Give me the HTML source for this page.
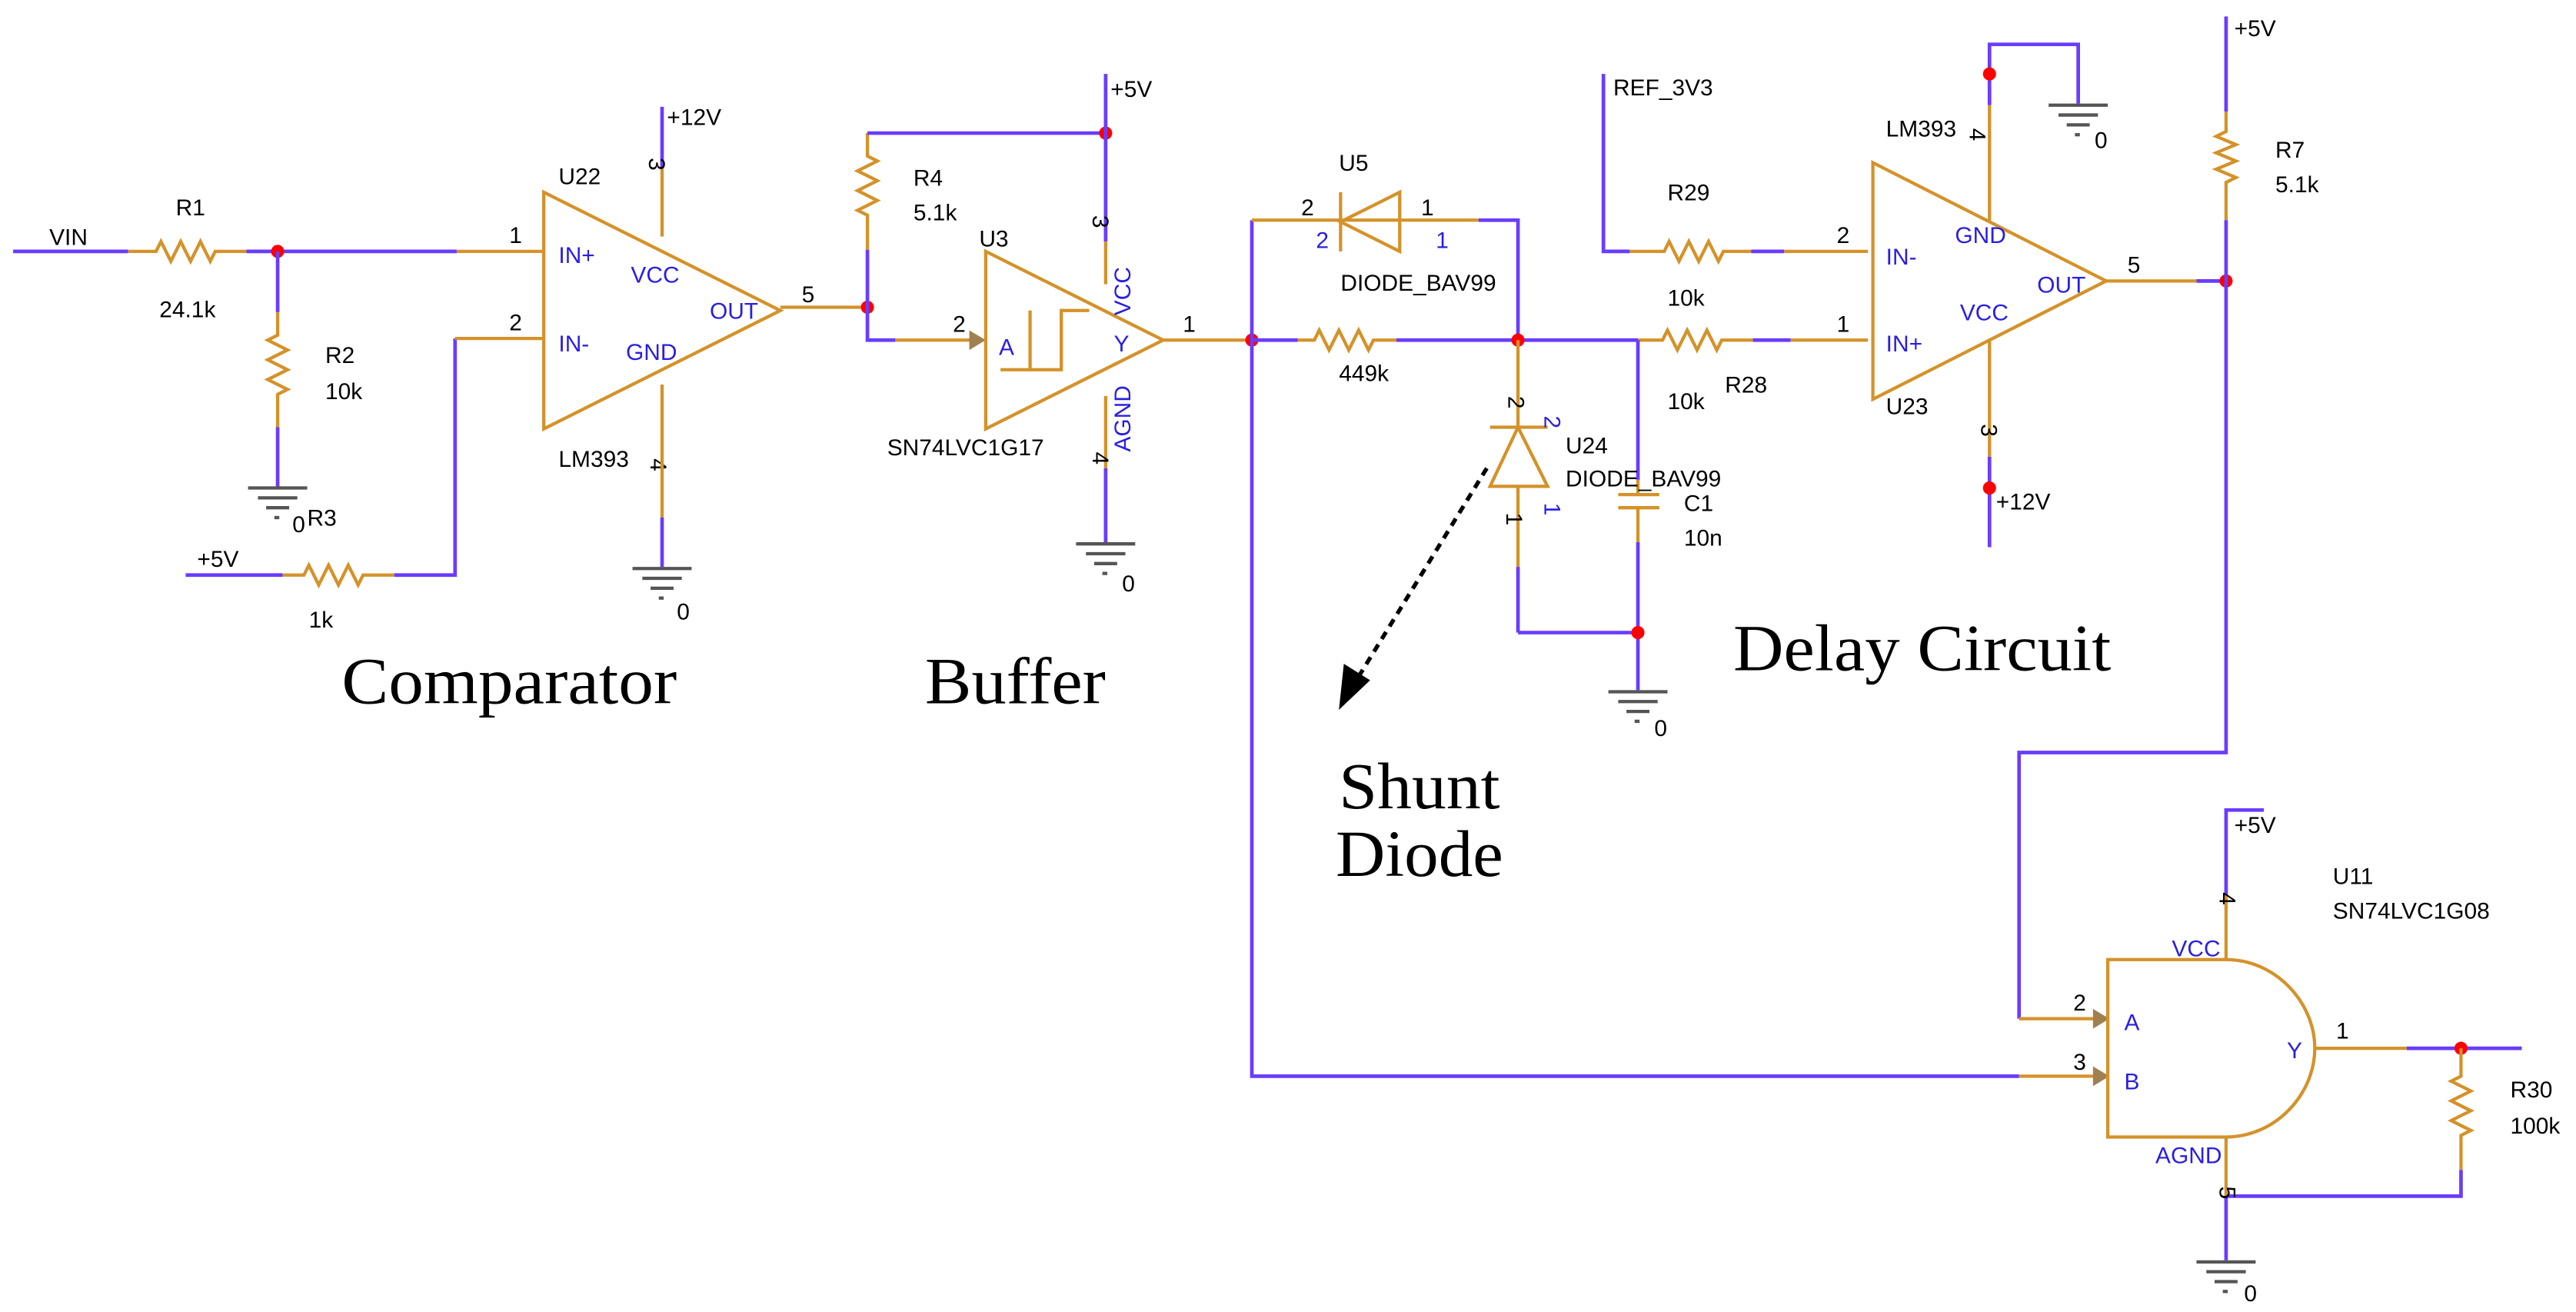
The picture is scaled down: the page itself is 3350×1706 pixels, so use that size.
<!DOCTYPE html>
<html><head><meta charset="utf-8"><style>
html,body{margin:0;padding:0;background:#fff;}
svg{display:block;}
.w{stroke:#6a3cff;stroke-width:2.2;fill:none;}
.g{stroke:#d4922a;stroke-width:2;fill:none;}
.d{fill:#ff0000;}
text{font-family:"Liberation Sans",Arial,sans-serif;font-size:14px;fill:#000;}
.b{fill:#2a1ee0;}
.big{font-family:"Liberation Serif","Times New Roman",serif;font-size:40px;fill:#000;}
</style></head><body>
<svg width="3350" height="1706" viewBox="0 0 1568 798.5" preserveAspectRatio="none" xmlns="http://www.w3.org/2000/svg">
<defs>
<g id="gnd"><line x1="-18" y1="0" x2="18" y2="0" stroke="#555" stroke-width="2"/><line x1="-12" y1="6" x2="12" y2="6" stroke="#555" stroke-width="2"/><line x1="-7" y1="12" x2="7" y2="12" stroke="#555" stroke-width="2"/><line x1="-2" y1="18" x2="1" y2="18" stroke="#555" stroke-width="2"/></g>
</defs>
<!-- VIN R1 -->
<text x="30" y="149">VIN</text>
<path class="w" d="M8 153H78"/>
<path class="g" d="M78 153H95 l3 -6 l6 12 l6 -12 l6 12 l6 -12 l6 12 l3 -6 H150"/>
<text x="107" y="131">R1</text><text x="97" y="193">24.1k</text>
<path class="w" d="M150 153H278"/>
<path class="g" d="M278 153H330"/>
<circle class="d" cx="169" cy="153" r="4"/>
<text x="310" y="148">1</text>
<!-- R2 -->
<path class="w" d="M169 153V190"/>
<path class="g" d="M169 190V204 l-6 3 l12 6 l-12 6 l12 6 l-12 6 l12 6 l-6 3 V260"/>
<path class="w" d="M169 260V297"/>
<use href="#gnd" x="169" y="297"/>
<text x="198" y="221">R2</text><text x="198" y="243">10k</text>
<text x="178" y="324">0</text><text x="187" y="320">R3</text>
<!-- R3 -->
<text x="120" y="345">+5V</text>
<path class="w" d="M113 350H172"/>
<path class="g" d="M172 350H185 l3 -6 l6 12 l6 -12 l6 12 l6 -12 l6 12 l3 -6 H240"/>
<path class="w" d="M240 350H277V206"/>
<path class="g" d="M277 206H330"/>
<text x="310" y="201">2</text>
<text x="188" y="382">1k</text>
<!-- U22 -->
<path class="g" d="M331 117L475 189L331 261Z"/>
<text x="340" y="112">U22</text>
<text class="b" x="340" y="160">IN+</text>
<text class="b" x="384" y="172">VCC</text>
<text class="b" x="432" y="194">OUT</text>
<text class="b" x="340" y="214">IN-</text>
<text class="b" x="381" y="219">GND</text>
<text x="340" y="284">LM393</text><text x="386" y="279" transform="rotate(90 391 284)">4</text>
<path class="w" d="M403 65V102"/>
<path class="g" d="M403 102V144"/>
<text x="406" y="76">+12V</text>
<text x="388" y="97" transform="rotate(90 392 100)">3</text>
<path class="g" d="M403 234V315"/>
<path class="w" d="M403 315V345"/>
<use href="#gnd" x="403" y="346"/>
<text x="412" y="377">0</text>
<path class="g" d="M475 187H528"/>
<text x="488" y="184">5</text>
<circle class="d" cx="528" cy="187" r="4"/>
<!-- R4 -->
<path class="w" d="M528 187V152"/>
<path class="g" d="M528 152V131 l-6 -3 l12 -6 l-12 -6 l12 -6 l-12 -6 l12 -6 l-6 -3 V81"/>
<path class="w" d="M528 81H673"/>
<circle class="d" cx="673" cy="81" r="4"/>
<text x="556" y="113">R4</text><text x="556" y="134">5.1k</text>
<path class="w" d="M673 45V147"/>
<path class="g" d="M673 147V173"/>
<text x="676" y="59">+5V</text>
<text x="657" y="131" transform="rotate(90 661 135)">3</text>
<!-- buffer -->
<path class="w" d="M528 187V207H545"/>
<path class="g" d="M545 207H592"/>
<path d="M590 201L600 207L590 213Z" fill="#a08050"/>
<text x="580" y="202">2</text>
<path class="g" d="M600 153L708 207L600 261Z"/>
<path class="g" d="M609 225H646V189H663M627 225V189"/>
<text x="596" y="150">U3</text>
<text class="b" x="608" y="216">A</text>
<text class="b" x="678" y="214">Y</text>
<text class="b" x="688" y="192" transform="rotate(-90 688 192)">VCC</text>
<text class="b" x="688" y="275" transform="rotate(-90 688 275)">AGND</text>
<path class="g" d="M673 241V285"/>
<path class="w" d="M673 285V330"/>
<use href="#gnd" x="673" y="331"/>
<text x="683" y="360">0</text>
<text x="540" y="277">SN74LVC1G17</text>
<text x="656" y="276" transform="rotate(90 661 280)">4</text>
<path class="g" d="M708 207H762"/>
<text x="720" y="202">1</text>
<circle class="d" cx="762" cy="207" r="4"/>
<!-- shunt left vertical -->
<path class="w" d="M762 207V655H1229"/>
<path class="w" d="M762 207V134"/>
<!-- U5 -->
<path class="g" d="M762 134H852M816 117V153M852 117L816 135L852 153Z"/>
<path class="g" d="M852 134H900"/>
<path class="w" d="M900 134H924V207"/>
<text x="815" y="104">U5</text>
<text x="792" y="131">2</text><text x="865" y="131">1</text>
<text class="b" x="801" y="151">2</text><text class="b" x="874" y="151">1</text>
<text x="816" y="177">DIODE_BAV99</text>
<!-- 449k -->
<path class="w" d="M762 207H790"/>
<path class="g" d="M790 207H800 l3 -6 l6 12 l6 -12 l6 12 l6 -12 l6 12 l3 -6 H850"/>
<path class="w" d="M850 207H997"/>
<circle class="d" cx="924" cy="207" r="4"/>
<text x="815" y="232">449k</text>
<!-- R28 -->
<path class="g" d="M997 207H1012 l3 -6 l6 12 l6 -12 l6 12 l6 -12 l6 12 l3 -6 H1067"/>
<path class="w" d="M1067 207H1090"/>
<path class="g" d="M1090 207H1137"/>
<text x="1118" y="202">1</text>
<text x="1015" y="249">10k</text><text x="1050" y="239">R28</text>
<!-- C1 -->
<path class="w" d="M997 207V292"/>
<path class="g" d="M997 292V301M985 301H1010M985 309H1010M997 309V330"/>
<path class="w" d="M997 330V420M924 385H997"/>
<circle class="d" cx="997" cy="385" r="4"/>
<use href="#gnd" x="997" y="421"/>
<text x="1007" y="448">0</text>
<text x="1025" y="311">C1</text><text x="1025" y="332">10n</text>
<!-- U24 -->
<path class="g" d="M924 207V260M907 260H942M924 260L907 296H942Z"/>
<path class="g" d="M924 296V345"/>
<path class="w" d="M924 345V385"/>
<text x="953" y="276">U24</text>
<text x="953" y="296">DIODE_BAV99</text>
<text x="909" y="240" transform="rotate(90 913 245)">2</text>
<text class="b" x="932" y="253" transform="rotate(90 936 257)">2</text>
<text x="909" y="312" transform="rotate(90 913 316)">1</text>
<text class="b" x="932" y="306" transform="rotate(90 936 310)">1</text>
<!-- dashed arrow -->
<path d="M905 285L825 415" stroke="#000" stroke-width="2.5" stroke-dasharray="5,4" fill="none"/>
<path d="M815 432L818 404L834 414Z" fill="#000"/>
<!-- R29 -->
<path class="w" d="M976 45V153H992"/>
<path class="g" d="M992 153H1013 l3 -6 l6 12 l6 -12 l6 12 l6 -12 l6 12 l3 -6 H1066"/>
<path class="w" d="M1066 153H1086"/>
<path class="g" d="M1086 153H1137"/>
<text x="982" y="58">REF_3V3</text>
<text x="1015" y="122">R29</text><text x="1015" y="186">10k</text>
<text x="1118" y="148">2</text>
<!-- U23 -->
<path class="g" d="M1140 99L1282 171L1140 243Z"/>
<text class="b" x="1148" y="161">IN-</text>
<text class="b" x="1190" y="148">GND</text>
<text class="b" x="1240" y="178">OUT</text>
<text class="b" x="1193" y="195">VCC</text>
<text class="b" x="1148" y="214">IN+</text>
<text x="1148" y="252">U23</text>
<text x="1148" y="83">LM393</text><text x="1198" y="87" transform="rotate(90 1203 83)">4</text>
<path class="w" d="M1211 64V27H1265V63"/>
<path class="g" d="M1211 64V135"/>
<circle class="d" cx="1211" cy="45" r="4"/>
<use href="#gnd" x="1265" y="64"/>
<text x="1275" y="90">0</text>
<path class="g" d="M1211 207V278"/>
<path class="w" d="M1211 278V333"/>
<circle class="d" cx="1211" cy="297" r="4"/>
<text x="1215" y="310">+12V</text>
<text x="1198" y="258" transform="rotate(90 1202 262)">3</text>
<path class="g" d="M1282 171H1337"/>
<path class="w" d="M1337 171H1355"/>
<circle class="d" cx="1355" cy="171" r="4"/>
<text x="1295" y="166">5</text>
<!-- R7 -->
<path class="w" d="M1355 10V68"/>
<path class="g" d="M1355 68V80 l-6 3 l12 5 l-12 5 l12 5 l-12 5 l12 5 l-6 3 V134"/>
<path class="w" d="M1355 134V458H1229V620"/>
<text x="1360" y="22">+5V</text>
<text x="1385" y="96">R7</text><text x="1385" y="117">5.1k</text>
<!-- AND gate -->
<path class="g" d="M1229 620H1276M1229 655H1276"/>
<path d="M1274 614L1284 620L1274 626Z" fill="#a08050"/>
<path d="M1274 649L1284 655L1274 661Z" fill="#a08050"/>
<text x="1262" y="615">2</text><text x="1262" y="651">3</text>
<path class="g" d="M1283 584H1355C1385 584 1409 610 1409 638C1409 666 1385 692 1355 692H1283Z"/>
<text class="b" x="1293" y="627">A</text>
<text class="b" x="1293" y="663">B</text>
<text class="b" x="1392" y="644">Y</text>
<text class="b" x="1322" y="582">VCC</text>
<text class="b" x="1312" y="708">AGND</text>
<text x="1420" y="538">U11</text><text x="1420" y="559">SN74LVC1G08</text>
<path class="g" d="M1355 584V545"/>
<path class="w" d="M1355 545V493H1378"/>
<text x="1360" y="507">+5V</text>
<text x="1342" y="544" transform="rotate(90 1347 548)">4</text>
<path class="g" d="M1409 638H1465"/>
<path class="w" d="M1465 638H1535"/>
<text x="1422" y="632">1</text>
<circle class="d" cx="1498" cy="638" r="4"/>
<path class="g" d="M1498 638V655 l-6 3 l12 6 l-12 6 l12 6 l-12 6 l12 6 l-6 3 V712"/>
<path class="w" d="M1498 712V728H1355"/>
<text x="1528" y="668">R30</text><text x="1528" y="690">100k</text>
<path class="g" d="M1355 692V728"/>
<path class="w" d="M1355 728V767"/>
<use href="#gnd" x="1355" y="768"/>
<text x="1366" y="792">0</text>
<text x="1342" y="723" transform="rotate(90 1347 727)">5</text>
<!-- big labels -->
<text class="big" x="208" y="428" textLength="204" lengthAdjust="spacingAndGlyphs">Comparator</text>
<text class="big" x="563" y="428" textLength="110" lengthAdjust="spacingAndGlyphs">Buffer</text>
<text class="big" x="1055" y="408" textLength="230" lengthAdjust="spacingAndGlyphs">Delay Circuit</text>
<text class="big" x="815" y="492" textLength="98" lengthAdjust="spacingAndGlyphs">Shunt</text>
<text class="big" x="813" y="533" textLength="102" lengthAdjust="spacingAndGlyphs">Diode</text>
</svg>
</body></html>
